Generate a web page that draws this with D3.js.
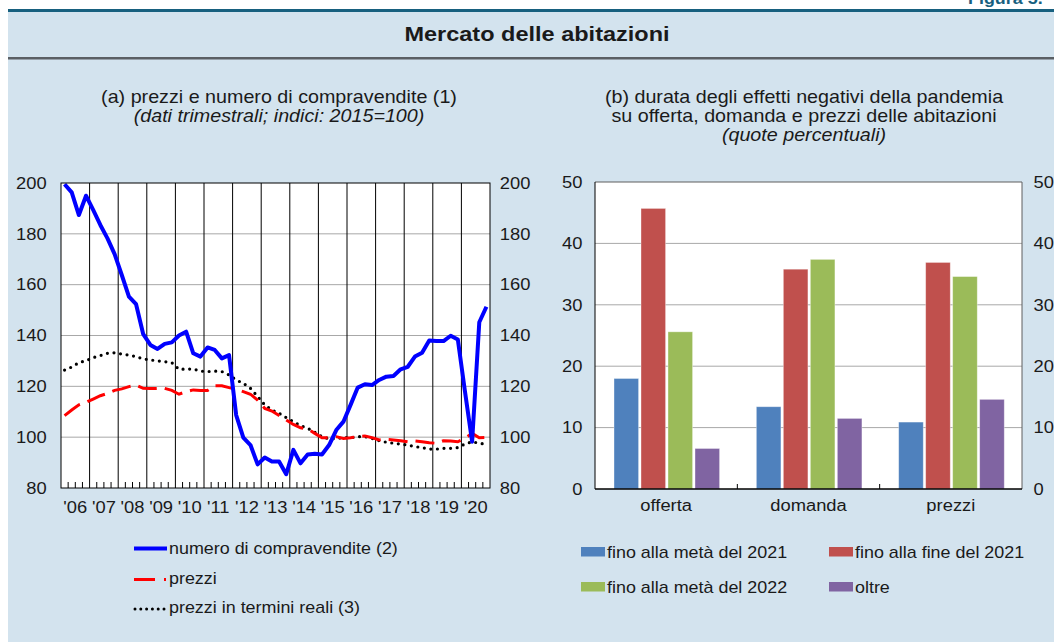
<!DOCTYPE html>
<html>
<head>
<meta charset="utf-8">
<script src="https://cdn.jsdelivr.net/npm/d3@7"></script>
<style>
  body { margin: 0; background: #ffffff; }
  svg { display: block; }
  text { font-family: "Liberation Sans", Arial, Helvetica, sans-serif; fill: #1a1a1a; }
</style>
</head>
<body>
<svg id="chart" width="1054" height="642"></svg>
<script>
// ---- Panel (a): quarterly indices, 2015 = 100 ----
const years = ["06","07","08","09","10","11","12","13","14","15","16","17","18","19","20"];
const quarters = years.flatMap(y => ["Q1","Q2","Q3","Q4"].map(q => "20" + y + q));

const compravendite = [
  199.5, 196.3, 187.4, 195.0,
  189.4, 183.5, 178.2, 172.0,
  163.8, 155.3, 152.3, 140.5,
  136.3, 134.7, 136.7, 137.3,
  140.0, 141.5, 133.0, 131.7,
  135.3, 134.3, 131.0, 132.3,
  108.7,  99.8,  96.9,  89.3,
   92.0,  90.4,  90.4,  85.4,
   95.0,  89.7,  93.2,  93.5,
   93.2,  96.9, 102.8, 106.1,
  112.7, 119.5, 120.8, 120.5,
  122.5, 123.8, 124.1, 126.7,
  127.7, 131.7, 133.2, 138.0,
  137.8, 137.8, 139.9, 138.4,
  118.0,  98.2, 145.2, 151.3
];
const prezzi = [
  108.5, 110.7, 112.7, 113.7,
  115.0, 116.3, 117.2, 118.4,
  119.0, 119.9, 120.5, 119.2,
  119.1, 119.2, 119.2, 118.4,
  116.9, 117.9, 118.6, 118.4,
  118.4, 120.2, 120.2, 119.5,
  118.9, 117.9, 116.9, 114.6,
  111.3, 110.3, 108.5, 106.8,
  105.0, 103.7, 103.2, 101.5,
   99.8,  99.8, 100.2,  99.5,
   99.8, 100.2, 100.5,  99.8,
   98.9,  99.1,  98.9,  98.6,
   98.2,  98.5,  98.2,  97.8,
   97.6,  98.6,  98.5,  98.2,
   99.5, 101.5,  99.8,  99.9
];
const prezziReali = [
  126.4, 127.6, 129.3, 130.1,
  131.3, 132.1, 133.0, 133.2,
  132.7, 132.3, 131.7, 130.8,
  130.4, 130.0, 129.7, 129.3,
  126.7, 126.8, 126.8, 126.0,
  125.8, 126.0, 125.8, 124.5,
  122.5, 121.2, 119.2, 116.0,
  112.7, 110.7, 109.4, 107.7,
  106.1, 104.5, 103.5, 101.9,
  100.2,  99.3,  99.5,  99.8,
   99.8, 100.2, 100.2,  99.5,
   98.6,  98.0,  97.6,  97.3,
   96.9,  96.3,  95.9,  95.3,
   95.3,  95.6,  95.6,  95.9,
   97.3,  98.2,  97.6,  97.2
];
const leftTicks = [80, 100, 120, 140, 160, 180, 200];

// ---- Panel (b): shares of respondents, per cent ----
const categories = ["offerta", "domanda", "prezzi"];
const seriesNames = ["fino alla metà del 2021", "fino alla fine del 2021", "fino alla metà del 2022", "oltre"];
const finoMeta2021 = [18.0, 13.4, 10.9];
const finoFine2021 = [45.7, 35.8, 36.9];
const finoMeta2022 = [25.6, 37.4, 34.6];
const oltre        = [ 6.6, 11.5, 14.6];
const rightTicks = [0, 10, 20, 30, 40, 50];

const seriesValues = [finoMeta2021, finoFine2021, finoMeta2022, oltre];
const seriesColors = ["#4f81bd", "#c0504d", "#9bbb59", "#8064a2"];

// Text is drawn slightly wide (horizontal stretch) to match the publication typeface.
const SX = 1.12;
const svg = d3.select("#chart");

function label(g, x, y, str, o = {}) {
  return g.append("text")
    .attr("transform", `translate(${x},${y}) scale(${SX},1)`)
    .attr("text-anchor", o.anchor || "start")
    .style("font-size", (o.size || 16) + "px")
    .style("font-weight", o.weight || "normal")
    .style("font-style", o.italic ? "italic" : "normal")
    .style("fill", o.fill || "#1a1a1a")
    .text(str);
}
function stretchAxisText(g, size) {
  g.selectAll("text")
    .style("font-size", size + "px")
    .style("fill", "#1a1a1a")
    .attr("x", function () { const v = d3.select(this).attr("x"); return v == null ? null : +v / SX; })
    .attr("transform", `scale(${SX},1)`);
}

// ---- frame ----
svg.append("rect").attr("x", 8).attr("y", 9).attr("width", 1046).attr("height", 633).attr("fill", "#d3e3ee");
svg.append("rect").attr("x", 8).attr("y", 9).attr("width", 1046).attr("height", 3).attr("fill", "#17607f");
svg.append("rect").attr("x", 8).attr("y", 57).attr("width", 1046).attr("height", 2.5).attr("fill", "#5a5f64");
label(svg, 968, 4, "Figura 5.", { size: 16, weight: "bold", fill: "#17607f" });
label(svg, 537, 41, "Mercato delle abitazioni", { size: 21, weight: "bold", anchor: "middle" });

// ---- panel (a) titles ----
label(svg, 279, 103, "(a) prezzi e numero di compravendite (1)", { size: 17.6, anchor: "middle" });
label(svg, 279, 122, "(dati trimestrali; indici: 2015=100)", { size: 17.6, anchor: "middle", italic: true });

// ---- panel (a) chart ----
const xq = d3.scaleBand().domain(quarters).range([61, 490]);
const xYear = d3.scaleBand().domain(years).range([61, 490]);
const yL = d3.scaleLinear().domain([80, 200]).range([488, 183]);
const gA = svg.append("g");

gA.append("rect").attr("x", 61).attr("y", 183).attr("width", 429).attr("height", 305).attr("fill", "#ffffff");
gA.selectAll("line.grid").data(leftTicks.slice(1, -1)).join("line")
  .attr("x1", 61).attr("x2", 490).attr("y1", d => yL(d)).attr("y2", d => yL(d))
  .attr("stroke", "#a8a8a8").attr("stroke-width", 1);
gA.selectAll("line.year").data(years.slice(1)).join("line")
  .attr("x1", d => xYear(d)).attr("x2", d => xYear(d)).attr("y1", 183).attr("y2", 488)
  .attr("stroke", "#000").attr("stroke-width", 1);
gA.selectAll("line.qtick").data(quarters.filter(q => !q.endsWith("Q1"))).join("line")
  .attr("x1", d => xq(d)).attr("x2", d => xq(d)).attr("y1", 488).attr("y2", 482)
  .attr("stroke", "#000").attr("stroke-width", 1);

const lineGen = d3.line()
  .x((d, i) => xq(quarters[i]) + xq.bandwidth() / 2)
  .y(d => yL(d));

gA.append("path").datum(prezziReali).attr("d", lineGen)
  .attr("fill", "none").attr("stroke", "#000").attr("stroke-width", 3.2)
  .attr("stroke-linecap", "round").attr("stroke-dasharray", "0,6.6");
gA.append("path").datum(prezzi).attr("d", lineGen)
  .attr("fill", "none").attr("stroke", "#ff0000").attr("stroke-width", 3)
  .attr("stroke-dasharray", "19,8");
gA.append("path").datum(compravendite).attr("d", lineGen)
  .attr("fill", "none").attr("stroke", "#0000ff").attr("stroke-width", 4)
  .attr("stroke-linejoin", "round");

gA.append("rect").attr("x", 61).attr("y", 183).attr("width", 429).attr("height", 305)
  .attr("fill", "none").attr("stroke", "#000").attr("stroke-width", 1);

const axL = gA.append("g").attr("transform", "translate(61,0)")
  .call(d3.axisLeft(yL).tickValues(leftTicks).tickSize(0).tickPadding(16 / SX));
axL.select(".domain").remove();
stretchAxisText(axL, 16.4);
const axR = gA.append("g").attr("transform", "translate(490,0)")
  .call(d3.axisRight(yL).tickValues(leftTicks).tickSize(0).tickPadding(11 / SX));
axR.select(".domain").remove();
stretchAxisText(axR, 16.4);
const axB = gA.append("g").attr("transform", "translate(0,488)")
  .call(d3.axisBottom(xYear).tickSize(0).tickPadding(13).tickFormat(d => "'" + d));
axB.select(".domain").remove();
stretchAxisText(axB, 16.4);

// ---- panel (a) legend ----
const legA = svg.append("g");
legA.append("line").attr("x1", 134).attr("x2", 167).attr("y1", 548.5).attr("y2", 548.5)
  .attr("stroke", "#0000ff").attr("stroke-width", 4);
label(legA, 169, 554, "numero di compravendite (2)", { size: 16 });
legA.append("line").attr("x1", 134).attr("x2", 155).attr("y1", 579.5).attr("y2", 579.5)
  .attr("stroke", "#ff0000").attr("stroke-width", 3);
legA.append("line").attr("x1", 164).attr("x2", 166).attr("y1", 579.5).attr("y2", 579.5)
  .attr("stroke", "#ff0000").attr("stroke-width", 3);
label(legA, 169, 584, "prezzi", { size: 16 });
legA.append("line").attr("x1", 135).attr("x2", 165).attr("y1", 609).attr("y2", 609)
  .attr("stroke", "#000").attr("stroke-width", 3).attr("stroke-linecap", "round")
  .attr("stroke-dasharray", "0,5.8");
label(legA, 169, 613, "prezzi in termini reali (3)", { size: 16 });

// ---- panel (b) titles ----
label(svg, 804, 103, "(b) durata degli effetti negativi della pandemia", { size: 17.6, anchor: "middle" });
label(svg, 804, 122, "su offerta, domanda e prezzi delle abitazioni", { size: 17.6, anchor: "middle" });
label(svg, 804, 141, "(quote percentuali)", { size: 17.6, anchor: "middle", italic: true });

// ---- panel (b) chart ----
const xc = d3.scaleBand().domain(categories).range([595, 1022]);
const xs = d3.scaleBand().domain(seriesNames).range([19, 127]);
const yR = d3.scaleLinear().domain([0, 50]).range([489, 182]);
const gB = svg.append("g");

gB.append("rect").attr("x", 595).attr("y", 182).attr("width", 427).attr("height", 307).attr("fill", "#ffffff");
gB.selectAll("line.grid").data(rightTicks.slice(1, -1)).join("line")
  .attr("x1", 595).attr("x2", 1022).attr("y1", d => yR(d)).attr("y2", d => yR(d))
  .attr("stroke", "#a8a8a8").attr("stroke-width", 1);

seriesNames.forEach((name, s) => {
  gB.append("g").selectAll("rect").data(seriesValues[s]).join("rect")
    .attr("x", (d, i) => xc(categories[i]) + xs(name))
    .attr("width", xs.bandwidth() - 2.4)
    .attr("y", d => yR(d))
    .attr("height", d => yR(0) - yR(d))
    .attr("fill", seriesColors[s])
    .attr("stroke", "#ffffff").attr("stroke-opacity", 0.45).attr("stroke-width", 0.8);
});

gB.append("line").attr("x1", 595).attr("x2", 1022).attr("y1", 182).attr("y2", 182).attr("stroke", "#5f5f5f");
gB.append("line").attr("x1", 1022).attr("x2", 1022).attr("y1", 182).attr("y2", 489).attr("stroke", "#5f5f5f");
gB.append("line").attr("x1", 595).attr("x2", 595).attr("y1", 182).attr("y2", 489).attr("stroke", "#000");
gB.append("line").attr("x1", 595).attr("x2", 1022).attr("y1", 489).attr("y2", 489).attr("stroke", "#000").attr("stroke-width", 1.6);
gB.selectAll("line.ctick").data(categories.slice(1)).join("line")
  .attr("x1", d => xc(d)).attr("x2", d => xc(d)).attr("y1", 489).attr("y2", 484)
  .attr("stroke", "#000");

const bxL = gB.append("g").attr("transform", "translate(595,0)")
  .call(d3.axisLeft(yR).tickValues(rightTicks).tickSize(0).tickPadding(14 / SX));
bxL.select(".domain").remove();
stretchAxisText(bxL, 16.4);
const bxR = gB.append("g").attr("transform", "translate(1022,0)")
  .call(d3.axisRight(yR).tickValues(rightTicks).tickSize(0).tickPadding(13 / SX));
bxR.select(".domain").remove();
stretchAxisText(bxR, 16.4);
const bxB = gB.append("g").attr("transform", "translate(0,489)")
  .call(d3.axisBottom(xc).tickSize(0).tickPadding(10));
bxB.select(".domain").remove();
stretchAxisText(bxB, 16.4);

// ---- panel (b) legend ----
const legB = svg.append("g");
const legPos = [[581, 547, 607, 558], [829, 547, 855, 558], [581, 582, 607, 593], [829, 582, 855, 593]];
seriesNames.forEach((name, s) => {
  const [sx, sy, tx, ty] = legPos[s];
  legB.append("rect").attr("x", sx).attr("y", sy).attr("width", 24).attr("height", 9.5).attr("fill", seriesColors[s]);
  label(legB, tx, ty, name, { size: 16 });
});
</script>
</body>
</html>
